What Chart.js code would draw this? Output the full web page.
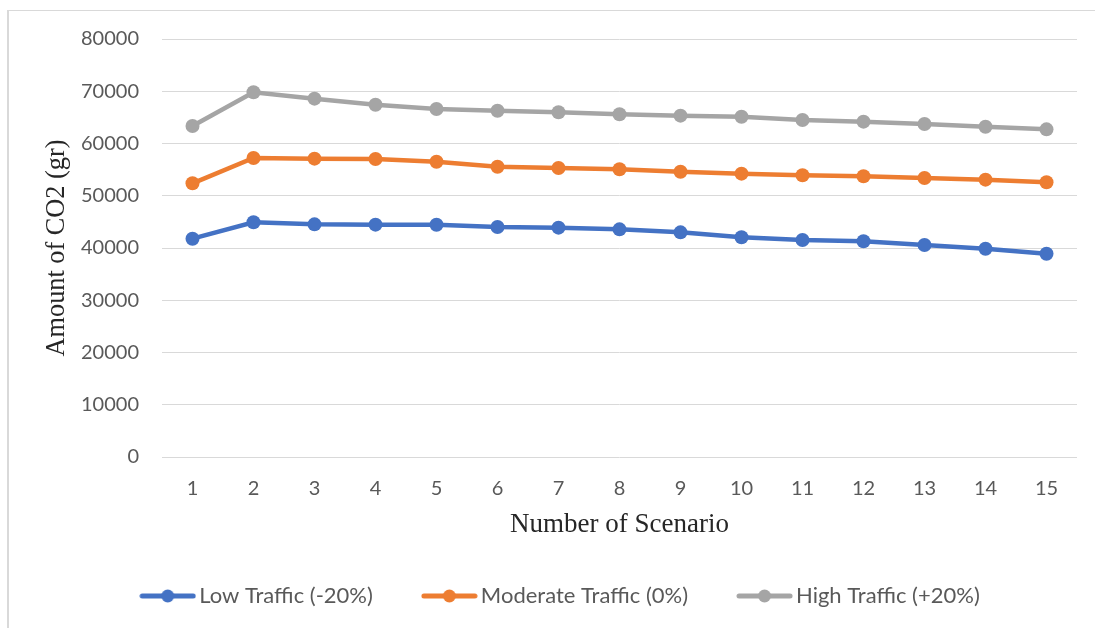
<!DOCTYPE html>
<html>
<head>
<meta charset="utf-8">
<script src="https://cdn.jsdelivr.net/npm/chart.js@4/dist/chart.umd.min.js"></script>
<style>
  html, body { margin: 0; padding: 0; background: #fff; }
  #wrap { position: relative; width: 1095px; height: 628px; overflow: hidden; }
  #frame { position: absolute; left: 7px; top: 10px; width: 1200px; height: 700px;
           border-left: 2px solid #d9d9d9; border-top: 1px solid #d9d9d9; box-sizing: border-box; }
  canvas { position: absolute; left: 0; top: 0; }
</style>
</head>
<body>
<div id="wrap">
  <div id="frame"></div>
  <canvas id="c" width="1095" height="628"></canvas>
</div>
<script>
const categories = ['1','2','3','4','5','6','7','8','9','10','11','12','13','14','15'];
const lowTraffic = [41780, 44920, 44530, 44470, 44450, 44020, 43890, 43570, 43000, 42050, 41530, 41280, 40570, 39870, 38910];
const moderateTraffic = [52380, 57220, 57100, 57030, 56520, 55560, 55310, 55060, 54600, 54230, 53910, 53720, 53400, 53080, 52570];
const highTraffic = [63350, 69800, 68580, 67430, 66600, 66280, 65970, 65590, 65330, 65130, 64500, 64180, 63730, 63220, 62710];
const seriesNames = ['Low Traffic (-20%)', 'Moderate Traffic (0%)', 'High Traffic (+20%)'];
const seriesColors = ['#4472C4', '#ED7D31', '#A5A5A5'];
const yTickMin = 0, yTickMax = 80000, yTickStep = 10000;
const xTitle = 'Number of Scenario';
const yTitle = 'Amount of CO2 (gr)';

function legendIcon(color) {
  const cv = document.createElement('canvas');
  cv.width = 57; cv.height = 16;
  const g = cv.getContext('2d');
  g.strokeStyle = color; g.lineWidth = 5; g.lineCap = 'round';
  g.beginPath(); g.moveTo(3, 8); g.lineTo(54, 8); g.stroke();
  g.fillStyle = color;
  g.beginPath(); g.arc(28.5, 8, 6.5, 0, Math.PI * 2); g.fill();
  return cv;
}
const icons = seriesColors.map(legendIcon);

const values = [lowTraffic, moderateTraffic, highTraffic];
const datasets = values.map((v, i) => ({
  label: seriesNames[i],
  data: v,
  borderColor: seriesColors[i],
  backgroundColor: seriesColors[i],
  pointBackgroundColor: seriesColors[i],
  pointBorderColor: seriesColors[i],
  borderWidth: 4.5,
  pointRadius: 7,
  pointBorderWidth: 0,
  tension: 0
}));

const tickFont = { family: 'Lato, "Open Sans", sans-serif', size: 20 };
const serif = '"Liberation Serif", "DejaVu Serif", serif';

const legendShift = {
  id: 'legendShift',
  afterLayout(chart) {
    const lg = chart.legend;
    if (lg) { lg.left += 25; lg.right += 25; lg.top -= 3; lg.bottom -= 3; }
  }
};

new Chart(document.getElementById('c'), {
  type: 'line',
  data: { labels: categories, datasets },
  plugins: [legendShift],
  options: {
    responsive: false,
    animation: false,
    layout: { padding: { left: 0, right: 18, top: 39, bottom: 8 } },
    plugins: {
      tooltip: { enabled: false },
      legend: {
        position: 'bottom',
        align: 'center',
        labels: {
          usePointStyle: true,
          pointStyleWidth: 41,
          padding: 56,
          color: '#595959',
          font: { family: 'Lato, "Open Sans", sans-serif', size: 22 },
          generateLabels: (chart) => {
            const items = Chart.defaults.plugins.legend.labels.generateLabels(chart);
            items.forEach((it, i) => { it.pointStyle = icons[i]; });
            return items;
          }
        }
      }
    },
    scales: {
      x: {
        offset: true,
        grid: { display: false, drawTicks: false },
        border: { display: false },
        ticks: { color: '#595959', font: tickFont, padding: 20, maxRotation: 0 },
        title: { display: true, text: xTitle, color: '#262626',
                 font: { family: serif, size: 27 },
                 padding: { top: 0, bottom: -9.2 } },
        afterFit: (s) => { s.height = 75; }
      },
      y: {
        min: yTickMin, max: yTickMax,
        grid: { color: '#d9d9d9', lineWidth: 1, drawTicks: false },
        border: { display: false },
        ticks: { stepSize: yTickStep, color: '#595959', font: tickFont, padding: 23,
                 callback: (v) => String(v) },
        title: { display: true, text: yTitle, color: '#262626',
                 font: { family: serif, size: 26.3 },
                 padding: { top: 41.2, bottom: 0 } },
        afterFit: (s) => { s.width = 162; }
      }
    }
  }
});
</script>
</body>
</html>
